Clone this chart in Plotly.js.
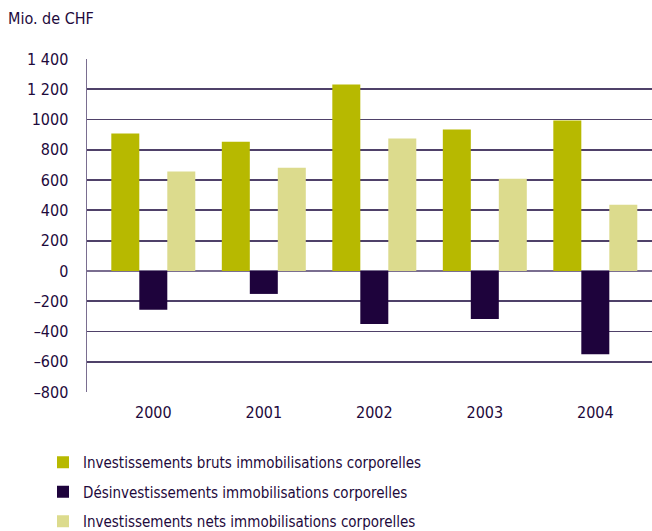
<!DOCTYPE html>
<html><head><meta charset="utf-8">
<script src="https://cdn.plot.ly/plotly-3.0.1.min.js"></script>
<style>html,body{margin:0;padding:0;overflow:hidden;background:#fff}</style>
</head><body><div id="chart" style="width:652px;height:531px"></div>
<script>
const years = ["2000","2001","2002","2003","2004"];
const gross = [907, 854, 1232, 934, 993];
const divest = [-256, -152, -351, -318, -550];
const net = [656, 682, 874, 609, 437];
const seriesNames = [
  "Investissements bruts immobilisations corporelles",
  "Désinvestissements immobilisations corporelles",
  "Investissements nets immobilisations corporelles"
];
const yTickVals = [-800,-600,-400,-200,0,200,400,600,800,1000,1200,1400];
const yTickText = ["–800","–600","–400","–200","0","200","400","600","800","1000","1 200","1 400"];

const FONT = "'Liberation Sans Narrow', 'DejaVu Sans Condensed', 'Arial Narrow', sans-serif";
const TXT = "#1e0a3c";
const colors = ["#b7b900", "#1e033c", "#dcdb8d"];
const vals = [gross, divest, net];

const traces = vals.map((v, i) => ({
  type: "bar", x: years, y: v, name: seriesNames[i],
  marker: {color: colors[i], line: {width: 0}},
  legendgroup: "g" + i, hoverinfo: "skip"
}));

const layout = {
  width: 652, height: 531,
  margin: {l: 87, r: 0, t: 59, b: 139, autoexpand: false},
  paper_bgcolor: "#fff", plot_bgcolor: "#fff",
  font: {family: FONT, color: TXT, size: 16},
  barmode: "group", bargap: 0.24, bargroupgap: 0,
  title: {text: "Mio. de CHF", x: 8/652, xref: "container", xanchor: "left", y: 1 - 18/531, yref: "container", yanchor: "middle",
          font: {family: FONT, size: 16, color: TXT}},
  xaxis: {type: "category", range: [-0.6, 4.513], showgrid: false, showline: false, zeroline: false, ticks: "",
          tickfont: {size: 16, color: TXT}, ticklabelstandoff: 9},
  yaxis: {range: [-800, 1400], tickvals: yTickVals, ticktext: yTickText,
          showgrid: true, gridcolor: "#4f4169", gridwidth: 1.8,
          zeroline: true, zerolinecolor: "#7a6e90", zerolinewidth: 2,
          showline: true, linecolor: "#7a6e90", linewidth: 1.5,
          ticks: "", tickfont: {size: 16, color: TXT}, ticklabelstandoff: 14},
  showlegend: true,
  legend: {orientation: "v", xref: "container", yref: "container", x: 43/652, xanchor: "left", y: 1 - 446/531, yanchor: "top",
           font: {size: 15, color: TXT}, tracegroupgap: 7, traceorder: "grouped",
           itemwidth: 30, bgcolor: "rgba(0,0,0,0)"}
};
Plotly.newPlot("chart", traces, layout, {displayModeBar: false, staticPlot: true});
</script></body></html>
